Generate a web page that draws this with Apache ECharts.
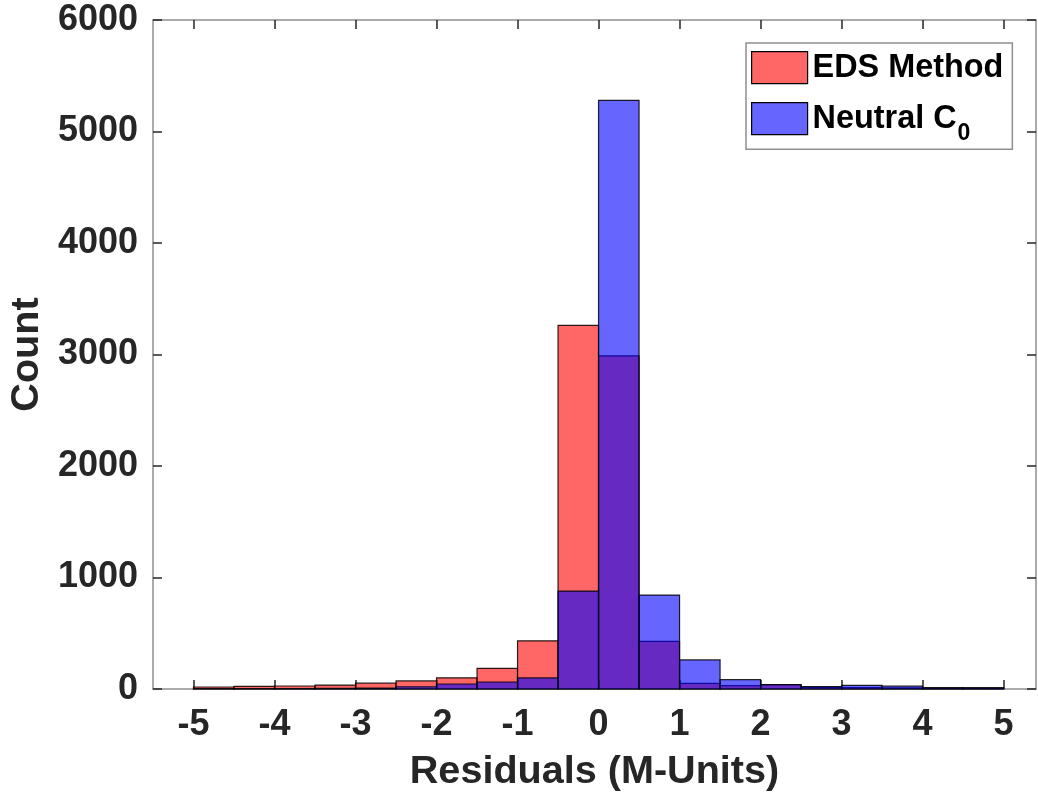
<!DOCTYPE html>
<html>
<head>
<meta charset="utf-8">
<title>Residuals histogram</title>
<script src="https://cdn.jsdelivr.net/npm/echarts@6/dist/echarts.min.js"></script>
<style>
  html, body { margin: 0; padding: 0; background: #fff; }
  #chart { width: 1038px; height: 801px; }
</style>
</head>
<body>
<div id="chart"></div>
<script>
// Histogram bins (left edges), width 0.5 M-units
const binStarts = [-5, -4.5, -4, -3.5, -3, -2.5, -2, -1.5, -1, -0.5,
                   0, 0.5, 1, 1.5, 2, 2.5, 3, 3.5, 4, 4.5];
const binWidth = 0.5;

// Counts per bin
const edsCounts = [18, 24, 27, 35, 52, 72, 100, 185, 432, 3262,
                   2988, 428, 51, 30, 40, 14, 12, 10, 8, 6];
const neutralCounts = [3, 3, 4, 5, 8, 20, 45, 63, 99, 878,
                       5280, 842, 261, 84, 40, 22, 32, 25, 12, 12];

// Axis ticks
const xTicks = [-5, -4, -3, -2, -1, 0, 1, 2, 3, 4, 5];
const yTicks = [0, 1000, 2000, 3000, 4000, 5000, 6000];

const FONT = '"Liberation Sans", Arial, Helvetica, sans-serif';
const AXIS_COLOR = '#262626';
const FRAME_COLOR = '#8f8f8f';

const redFill = 'rgba(255, 0, 0, 0.6)';
const blueFill = 'rgba(0, 0, 255, 0.6)';
const edgeColor = 'rgba(0, 0, 0, 0.85)';

function toBins(counts) {
  return binStarts.map((x0, i) => [x0, x0 + binWidth, counts[i]]);
}

function histRenderer(fill) {
  return function (params, api) {
    const x0 = api.value(0), x1 = api.value(1), c = api.value(2);
    const topLeft = api.coord([x0, c]);
    const bottomRight = api.coord([x1, 0]);
    return {
      type: 'rect',
      shape: {
        x: topLeft[0],
        y: topLeft[1],
        width: bottomRight[0] - topLeft[0],
        height: bottomRight[1] - topLeft[1]
      },
      style: { fill: fill, stroke: edgeColor, lineWidth: 1.2 }
    };
  };
}

const plainNumber = v => String(v);

const chart = echarts.init(document.getElementById('chart'), null, { renderer: 'canvas' });

const xMin = -5.5, xMax = 5.4;

const option = {
  animation: false,
  backgroundColor: '#ffffff',
  grid: { left: 153, right: 2, top: 20, bottom: 112, containLabel: false, outerBoundsMode: 'none' },
  xAxis: [
    {
      type: 'value', position: 'bottom', min: xMin, max: xMax,
      axisLine: { show: true, onZero: false, lineStyle: { color: FRAME_COLOR, width: 1.5 } },
      axisTick: { show: true, inside: true, length: 9, customValues: xTicks,
                  lineStyle: { color: AXIS_COLOR, width: 1.5 } },
      axisLabel: { show: true, customValues: xTicks, margin: 18, formatter: plainNumber,
                   fontFamily: FONT, fontWeight: 'bold', fontSize: 36, color: AXIS_COLOR },
      splitLine: { show: false },
      name: 'Residuals (M-Units)', nameLocation: 'middle', nameGap: 63,
      nameTextStyle: { fontFamily: FONT, fontWeight: 'bold', fontSize: 39.6, color: AXIS_COLOR }
    },
    {
      type: 'value', position: 'top', min: xMin, max: xMax,
      axisLine: { show: true, onZero: false, lineStyle: { color: FRAME_COLOR, width: 1.5 } },
      axisTick: { show: true, inside: true, length: 9, customValues: xTicks,
                  lineStyle: { color: AXIS_COLOR, width: 1.5 } },
      axisLabel: { show: false },
      splitLine: { show: false }
    }
  ],
  yAxis: [
    {
      type: 'value', position: 'left', min: 0, max: 6000, interval: 1000,
      axisLine: { show: true, onZero: false, lineStyle: { color: FRAME_COLOR, width: 1.5 } },
      axisTick: { show: true, inside: true, length: 9, customValues: yTicks,
                  lineStyle: { color: AXIS_COLOR, width: 1.5 } },
      axisLabel: { show: true, customValues: yTicks, margin: 15, formatter: plainNumber,
                   fontFamily: FONT, fontWeight: 'bold', fontSize: 36, color: AXIS_COLOR },
      splitLine: { show: false },
      name: 'Count', nameLocation: 'middle', nameGap: 77, nameRotate: 90,
      nameTextStyle: { fontFamily: FONT, fontWeight: 'bold', fontSize: 39.6, color: AXIS_COLOR }
    },
    {
      type: 'value', position: 'right', min: 0, max: 6000, interval: 1000,
      axisLine: { show: true, onZero: false, lineStyle: { color: FRAME_COLOR, width: 1.5 } },
      axisTick: { show: true, inside: true, length: 9, customValues: yTicks,
                  lineStyle: { color: AXIS_COLOR, width: 1.5 } },
      axisLabel: { show: false },
      splitLine: { show: false }
    }
  ],
  legend: {
    orient: 'vertical',
    left: 746, top: 43,
    padding: [8, 9, 4, 5],
    itemGap: 8,
    itemWidth: 56, itemHeight: 32,
    borderColor: '#8f8f8f', borderWidth: 1.5,
    backgroundColor: '#ffffff',
    selectedMode: false,
    icon: 'rect',
    data: [
      { name: 'EDS Method', itemStyle: { color: redFill, borderColor: '#000', borderWidth: 1.2 } },
      { name: 'Neutral C0', itemStyle: { color: blueFill, borderColor: '#000', borderWidth: 1.2 } }
    ],
    formatter: function (name) {
      return name === 'Neutral C0' ? '{n|Neutral C}{s|0}' : '{n|EDS Method}';
    },
    textStyle: {
      rich: {
        n: { fontFamily: FONT, fontWeight: 'bold', fontSize: 32.4, color: '#000', lineHeight: 32 },
        s: { fontFamily: FONT, fontWeight: 'bold', fontSize: 23, color: '#000', padding: [30, 0, 0, 1], lineHeight: 23 }
      }
    }
  },
  series: [
    {
      name: 'EDS Method', type: 'custom',
      renderItem: histRenderer(redFill),
      itemStyle: { color: redFill },
      encode: { x: [0, 1], y: 2 },
      data: toBins(edsCounts),
      z: 2
    },
    {
      name: 'Neutral C0', type: 'custom',
      renderItem: histRenderer(blueFill),
      itemStyle: { color: blueFill },
      encode: { x: [0, 1], y: 2 },
      data: toBins(neutralCounts),
      z: 3
    }
  ]
};

chart.setOption(option);
</script>
</body>
</html>
